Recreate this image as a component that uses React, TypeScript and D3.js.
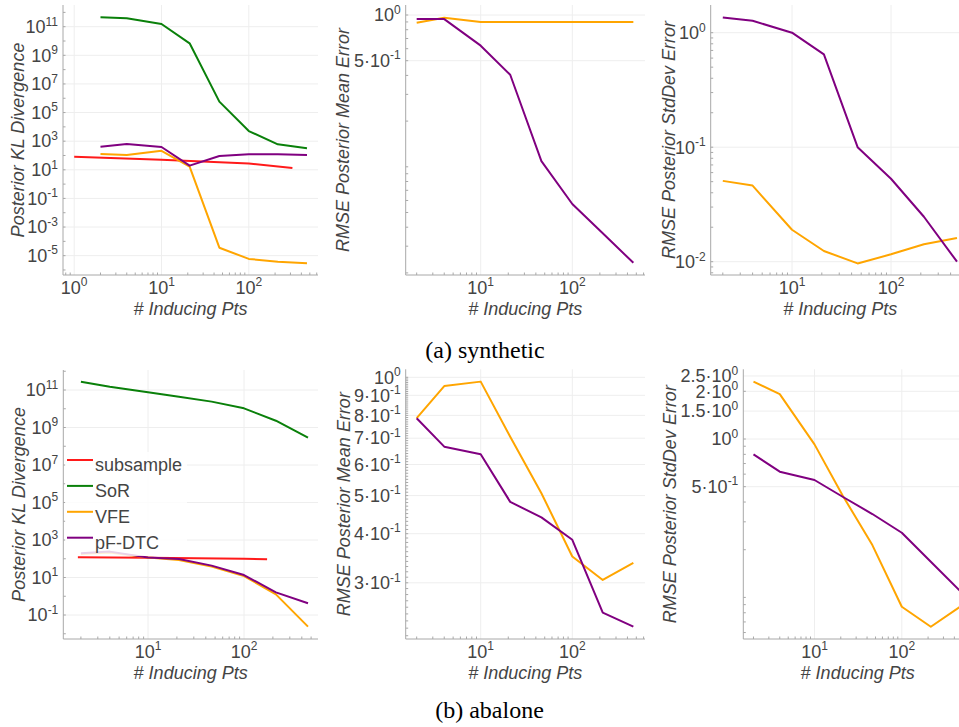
import React from 'react';
import * as d3 from 'd3';

// Shared x positions (# inducing points)
const X_PTS = [2, 4, 10, 21, 46, 100, 215, 464];

// (a) synthetic
const SYN_SUBSAMPLE_X = [1, 10, 100, 316];
const SYN_KL_SUBSAMPLE = [83, 51, 28, 13.5];
const SYN_KL_SOR = [4.6e11, 3.9e11, 1.55e11, 6.9e9, 5.8e5, 5100, 600, 316];
const SYN_KL_VFE = [126, 107, 214, 16.6, 3.6e-5, 5.9e-6, 3.8e-6, 2.95e-6];
const SYN_KL_PFDTC = [410, 630, 390, 19.5, 91, 120, 120, 107];
const SYN_MEAN_VFE = [0.89, 0.96, 0.9, 0.9, 0.9, 0.9, 0.9, 0.9];
const SYN_MEAN_PFDTC = [0.94, 0.94, 0.628, 0.404, 0.109, 0.0569, 0.0365, 0.0233];
const SYN_STD_VFE = [0.0508, 0.0462, 0.019, 0.0124, 0.00966, 0.0116, 0.0142, 0.0161];
const SYN_STD_PFDTC = [1.36, 1.27, 1.0, 0.647, 0.1, 0.053, 0.0247, 0.01];

// (b) abalone
const ABA_SUBSAMPLE_X = [1.86, 10, 100, 174];
const ABA_KL_SUBSAMPLE = [120, 112, 100, 93];
const ABA_KL_SOR = [2.75e11, 1.5e11, 7.6e10, 4.4e10, 2.4e10, 1.05e10, 2.3e9, 2.9e8];
const ABA_KL_VFE = [178, 214, 115, 85, 38, 12, 1.26, 0.024];
const ABA_KL_PFDTC = [195, 240, 115, 98, 43, 13.5, 1.62, 0.42];
const ABA_MEAN_VFE = [0.787, 0.95, 0.975, 0.706, 0.507, 0.35, 0.305, 0.337];
const ABA_MEAN_PFDTC = [0.787, 0.666, 0.637, 0.482, 0.44, 0.386, 0.252, 0.232];
const ABA_STD_VFE = [2.3, 1.92, 0.925, 0.44, 0.214, 0.0873, 0.0653, 0.0873];
const ABA_STD_PFDTC = [0.8, 0.622, 0.551, 0.432, 0.336, 0.256, 0.168, 0.11];

// Tick labels
const KL_TICKS_SYN = [1e-5, 1e-3, 1e-1, 1e1, 1e3, 1e5, 1e7, 1e9, 1e11];
const KL_TICKS_ABA = [1e-1, 1e1, 1e3, 1e5, 1e7, 1e9, 1e11];
const MEAN_TICKS_SYN = [0.5, 1];
const STD_TICKS_SYN = [0.01, 0.1, 1];
const MEAN_TICKS_ABA = [0.3, 0.4, 0.5, 0.6, 0.7, 0.8, 0.9, 1];
const STD_TICKS_ABA = [0.5, 1, 1.5, 2, 2.5];
const X_TICKS_WIDE = [1, 10, 100];
const X_TICKS = [10, 100];

const METHODS = ['subsample', 'SoR', 'VFE', 'pF-DTC'];
const COLORS: Record<string, string> = {
  subsample: '#ff1a1a',
  SoR: '#0a800a',
  VFE: '#ffa500',
  'pF-DTC': '#800080',
};

const TITLE_KL = 'Posterior KL Divergence';
const TITLE_MEAN = 'RMSE Posterior Mean Error';
const TITLE_STD = 'RMSE Posterior StdDev Error';
const TITLE_X = '# Inducing Pts';

type Series = { name: string; x: number[]; y: number[] };

type PanelSpec = {
  id: string;
  left: number; right: number; top: number; bottom: number;
  xAnchorPx: number; xAnchorVal: number; xDecade: number;
  yAnchorPx: number; yAnchorVal: number; yDecade: number;
  xTicks: number[]; yTicks: number[];
  yMinor: 'decade' | 'digits' | 'fine';
  yTitle: string; yTitleX: number;
  series: Series[];
  legend?: boolean;
};

const FONT = '"Liberation Sans", Arial, Helvetica, sans-serif';
const AXIS = '#a8a8a8';
const GRID = '#eeeeee';
const TXT = '#444444';

function fmt(v: number) {
  const e = Math.floor(Math.log10(v) + 1e-9);
  const m = +(v / Math.pow(10, e)).toFixed(2);
  return { mant: m === 1 ? '10' : `${m}·10`, exp: String(e) };
}

function minorList(lo: number, hi: number, mode: string, isX: boolean): number[] {
  const out: number[] = [];
  const k0 = Math.floor(Math.log10(lo)) - 1;
  const k1 = Math.ceil(Math.log10(hi)) + 1;
  if (mode === 'fine') {
    for (let i = 1; i <= 100; i++) out.push(i / 100);
  } else {
    for (let k = k0; k <= k1; k++) {
      const p = Math.pow(10, k);
      if (mode === 'decade') out.push(p);
      else for (let d = isX ? 2 : 1; d <= 9; d++) out.push(d * p);
    }
  }
  return out.filter((v) => v >= lo && v <= hi);
}

const Label: React.FC<{ v: number; x: number; y: number; anchor: string }> = ({ v, x, y, anchor }) => {
  const f = fmt(v);
  return (
    <text x={x} y={y} textAnchor={anchor as any} fontFamily={FONT} fontSize={18} fill={TXT}>
      <tspan>{f.mant}</tspan>
      <tspan dy={-7.5} fontSize={12}>{f.exp}</tspan>
    </text>
  );
};

const Panel: React.FC<{ p: PanelSpec }> = ({ p }) => {
  const xLo = p.xAnchorVal * Math.pow(10, (p.left - p.xAnchorPx) / p.xDecade);
  const xHi = p.xAnchorVal * Math.pow(10, (p.right - p.xAnchorPx) / p.xDecade);
  const yLo = p.yAnchorVal * Math.pow(10, (p.yAnchorPx - p.bottom) / p.yDecade);
  const yHi = p.yAnchorVal * Math.pow(10, (p.yAnchorPx - p.top) / p.yDecade);
  const xs = d3.scaleLog().domain([xLo, xHi]).range([p.left, p.right]);
  const ys = d3.scaleLog().domain([yLo, yHi]).range([p.bottom, p.top]);
  const line = d3.line<[number, number]>().x((d) => xs(d[0])).y((d) => ys(d[1]));
  const xMinor = minorList(xLo, xHi, 'digits', true);
  const yMinor = minorList(yLo, yHi, p.yMinor, false);
  const cx = (p.left + p.right) / 2;
  const cy = (p.top + p.bottom) / 2;
  const clip = `clip-${p.id}`;
  return (
    <g>
      <defs>
        <clipPath id={clip}>
          <rect x={p.left} y={p.top} width={p.right - p.left} height={p.bottom - p.top} />
        </clipPath>
      </defs>
      {p.xTicks.map((t) => (
        <line key={'gx' + t} x1={xs(t)} x2={xs(t)} y1={p.top} y2={p.bottom} stroke={GRID} strokeWidth={1} />
      ))}
      {p.yTicks.map((t) => (
        <line key={'gy' + t} x1={p.left} x2={p.right} y1={ys(t)} y2={ys(t)} stroke={GRID} strokeWidth={1} />
      ))}
      <g clipPath={`url(#${clip})`}>
        {p.series.map((s) => (
          <path
            key={s.name}
            d={line(s.x.map((x, i) => [x, s.y[i]] as [number, number])) || ''}
            fill="none"
            stroke={COLORS[s.name]}
            strokeWidth={2}
            strokeLinejoin="round"
          />
        ))}
      </g>
      {xMinor.map((t, i) => (
        <line key={'mx' + i} x1={xs(t)} x2={xs(t)} y1={p.bottom} y2={p.bottom - 2.5} stroke={AXIS} strokeWidth={1} />
      ))}
      {yMinor.map((t, i) => (
        <line key={'my' + i} x1={p.left} x2={p.left + 2.5} y1={ys(t)} y2={ys(t)} stroke={AXIS} strokeWidth={1} />
      ))}
      <line x1={p.left} x2={p.left} y1={p.top} y2={p.bottom} stroke={AXIS} strokeWidth={1} />
      <line x1={p.left} x2={p.right} y1={p.bottom} y2={p.bottom} stroke={AXIS} strokeWidth={1} />
      {p.xTicks.map((t) => (
        <Label key={'lx' + t} v={t} x={xs(t)} y={p.bottom + 18.5} anchor="middle" />
      ))}
      {p.yTicks.map((t) => (
        <Label key={'ly' + t} v={t} x={p.left - 5} y={ys(t) + 6.3} anchor="end" />
      ))}
      <text x={cx} y={p.bottom + 39.5} textAnchor="middle" fontFamily={FONT} fontStyle="italic" fontSize={18} fill={TXT}>
        {TITLE_X}
      </text>
      <text
        transform={`translate(${p.yTitleX},${cy}) rotate(-90)`}
        textAnchor="middle"
        fontFamily={FONT}
        fontStyle="italic"
        fontSize={18}
        fill={TXT}
      >
        {p.yTitle}
      </text>
      {p.legend && (
        <g>
          <rect x={65} y={452} width={122} height={104} fill="rgba(255,255,255,0.82)" />
          {METHODS.map((m, i) => (
            <g key={m}>
              <line x1={67} x2={93} y1={460 + i * 25.9} y2={460 + i * 25.9} stroke={COLORS[m]} strokeWidth={2} />
              <text x={95} y={471 + i * 25.9} fontFamily={FONT} fontSize={18} fill={TXT}>
                {m}
              </text>
            </g>
          ))}
        </g>
      )}
    </g>
  );
};

const panels: PanelSpec[] = [
  {
    id: 'p1', left: 63, right: 318, top: 5, bottom: 275,
    xAnchorPx: 161.5, xAnchorVal: 10, xDecade: 87.3,
    yAnchorPx: 26.7, yAnchorVal: 1e11, yDecade: 14.31,
    xTicks: X_TICKS_WIDE, yTicks: KL_TICKS_SYN, yMinor: 'decade',
    yTitle: TITLE_KL, yTitleX: 24,
    series: [
      { name: 'subsample', x: SYN_SUBSAMPLE_X, y: SYN_KL_SUBSAMPLE },
      { name: 'SoR', x: X_PTS, y: SYN_KL_SOR },
      { name: 'VFE', x: X_PTS, y: SYN_KL_VFE },
      { name: 'pF-DTC', x: X_PTS, y: SYN_KL_PFDTC },
    ],
  },
  {
    id: 'p2', left: 405.7, right: 645, top: 5, bottom: 275,
    xAnchorPx: 480.7, xAnchorVal: 10, xDecade: 91.6,
    yAnchorPx: 15, yAnchorVal: 1, yDecade: 151.8,
    xTicks: X_TICKS, yTicks: MEAN_TICKS_SYN, yMinor: 'digits',
    yTitle: TITLE_MEAN, yTitleX: 348.5,
    series: [
      { name: 'VFE', x: X_PTS, y: SYN_MEAN_VFE },
      { name: 'pF-DTC', x: X_PTS, y: SYN_MEAN_PFDTC },
    ],
  },
  {
    id: 'p3', left: 710.7, right: 970, top: 5, bottom: 275,
    xAnchorPx: 792, xAnchorVal: 10, xDecade: 99,
    yAnchorPx: 32.7, yAnchorVal: 1, yDecade: 114.5,
    xTicks: X_TICKS, yTicks: STD_TICKS_SYN, yMinor: 'digits',
    yTitle: TITLE_STD, yTitleX: 675,
    series: [
      { name: 'VFE', x: X_PTS, y: SYN_STD_VFE },
      { name: 'pF-DTC', x: X_PTS, y: SYN_STD_PFDTC },
    ],
  },
  {
    id: 'p4', left: 63.3, right: 318, top: 370, bottom: 639,
    xAnchorPx: 148, xAnchorVal: 10, xDecade: 96,
    yAnchorPx: 390, yAnchorVal: 1e11, yDecade: 18.75,
    xTicks: X_TICKS, yTicks: KL_TICKS_ABA, yMinor: 'decade',
    yTitle: TITLE_KL, yTitleX: 24.5, legend: true,
    series: [
      { name: 'subsample', x: ABA_SUBSAMPLE_X, y: ABA_KL_SUBSAMPLE },
      { name: 'SoR', x: X_PTS, y: ABA_KL_SOR },
      { name: 'VFE', x: X_PTS, y: ABA_KL_VFE },
      { name: 'pF-DTC', x: X_PTS, y: ABA_KL_PFDTC },
    ],
  },
  {
    id: 'p5', left: 405.7, right: 645, top: 369.3, bottom: 639,
    xAnchorPx: 480.7, xAnchorVal: 10, xDecade: 91.6,
    yAnchorPx: 377.3, yAnchorVal: 1, yDecade: 393,
    xTicks: X_TICKS, yTicks: MEAN_TICKS_ABA, yMinor: 'fine',
    yTitle: TITLE_MEAN, yTitleX: 349.5,
    series: [
      { name: 'VFE', x: X_PTS, y: ABA_MEAN_VFE },
      { name: 'pF-DTC', x: X_PTS, y: ABA_MEAN_PFDTC },
    ],
  },
  {
    id: 'p6', left: 743.3, right: 972, top: 369.3, bottom: 639,
    xAnchorPx: 814.5, xAnchorVal: 10, xDecade: 87.3,
    yAnchorPx: 439, yAnchorVal: 1, yDecade: 158.4,
    xTicks: X_TICKS, yTicks: STD_TICKS_ABA, yMinor: 'digits',
    yTitle: TITLE_STD, yTitleX: 676,
    series: [
      { name: 'VFE', x: X_PTS, y: ABA_STD_VFE },
      { name: 'pF-DTC', x: X_PTS, y: ABA_STD_PFDTC },
    ],
  },
];

const CAPTIONS = ['(a) synthetic', '(b) abalone'];

export default function App() {
  return (
    <svg
      width={959}
      height={727}
      style={{ position: 'absolute', left: 0, top: 0, background: '#fff' }}
    >
      <rect x={0} y={0} width={959} height={727} fill="#fff" />
      {panels.map((p) => (
        <Panel key={p.id} p={p} />
      ))}
      <text x={485} y={358} textAnchor="middle" fontFamily='"Liberation Serif", "Times New Roman", serif' fontSize={24} fill="#000">
        {CAPTIONS[0]}
      </text>
      <text x={489.5} y={718} textAnchor="middle" fontFamily='"Liberation Serif", "Times New Roman", serif' fontSize={24} fill="#000">
        {CAPTIONS[1]}
      </text>
    </svg>
  );
}
